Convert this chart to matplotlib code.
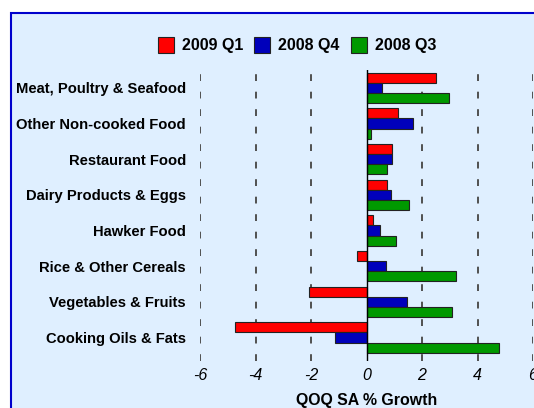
import matplotlib.pyplot as plt
import numpy as np
from matplotlib.patches import Rectangle

categories = ["Meat, Poultry & Seafood", "Other Non-cooked Food", "Restaurant Food",
              "Dairy Products & Eggs", "Hawker Food", "Rice & Other Cereals",
              "Vegetables & Fruits", "Cooking Oils & Fats"]
q1_2009 = [2.49, 1.14, 0.91, 0.73, 0.23, -0.36, -2.06, -4.74]
q4_2008 = [0.57, 1.67, 0.91, 0.89, 0.47, 0.69, 1.47, -1.14]
q3_2008 = [2.98, 0.18, 0.73, 1.52, 1.06, 3.22, 3.09, 4.78]
series = ["2009 Q1", "2008 Q4", "2008 Q3"]
colors = ["#ff0000", "#0000bb", "#009900"]
xticks = [-6, -4, -2, 0, 2, 4, 6]

plt.rcParams['font.family'] = ['Liberation Sans', 'DejaVu Sans']

W, H = 534, 408
fig = plt.figure(figsize=(W / 100, H / 100), dpi=100, facecolor='white')

# light blue panel with blue border on the left and top
fig.patches.append(Rectangle((11 / W, -0.05), 1.0, (H - 13) / H + 0.05,
                             transform=fig.transFigure, facecolor='#dfefff',
                             edgecolor='#0000cc', linewidth=1.5, zorder=-5))

ax = fig.add_axes([200 / W, (H - 361) / H, 333 / W, (361 - 70) / H])
ax.set_facecolor('none')
for s in ax.spines.values():
    s.set_visible(False)

y = np.arange(len(categories))
h = 0.283
for i, (vals, col, lab) in enumerate(zip([q1_2009, q4_2008, q3_2008], colors, series)):
    ax.barh(y + (i - 1) * h, vals, height=h, color=col, edgecolor='#222222',
            linewidth=0.8, label=lab, zorder=3)

ax.set_xlim(-6, 6)
ax.set_ylim(7 + 0.66, -0.5)
for x in xticks:
    if x == 0:
        ax.axvline(0, color='black', lw=1.0, zorder=4)
    else:
        ax.axvline(x, color='#505050', lw=1.4, ls=(0, (3.5, 5.5)), zorder=1)

ax.set_xticks(xticks)
ax.set_xticklabels([str(x) for x in xticks], fontstyle='italic', fontsize=11.5)
ax.tick_params(axis='x', length=0, pad=5)
ax.set_yticks(y)
ax.set_yticklabels(categories, fontweight='bold', fontsize=10.6)
ax.tick_params(axis='y', length=0, pad=10)
ax.set_xlabel("QOQ SA % Growth", fontweight='bold', fontsize=11.4, labelpad=7)

fig.legend(loc='center', bbox_to_anchor=(297 / W, (H - 45) / H), ncol=3, frameon=False,
           prop={'weight': 'bold', 'size': 11.5}, handlelength=1.0, handleheight=1.2,
           handletextpad=0.5, columnspacing=0.7)

fig.savefig('out.png', dpi=100, facecolor='white')
